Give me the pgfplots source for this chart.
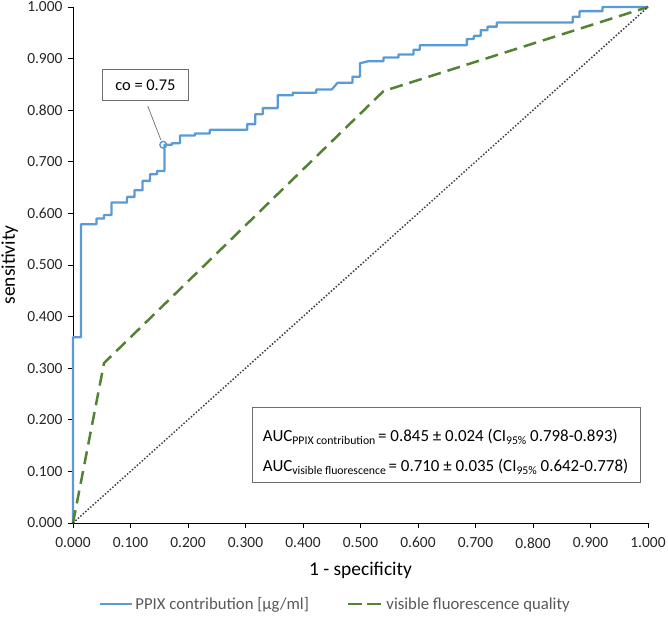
\documentclass[border=0pt]{standalone}
\usepackage{pgfplots}
\pgfplotsset{compat=1.18}
\usepackage{fontspec}
\setmainfont{Carlito}
\usetikzlibrary{calc}
\definecolor{rocblue}{RGB}{91,155,213}
\definecolor{rocgreen}{RGB}{84,130,53}
\definecolor{boxgray}{RGB}{110,110,110}
\definecolor{legtext}{RGB}{89,89,89}
\newcommand{\sub}[1]{\raisebox{-0.35ex}{\fontsize{11.8}{11.8}\selectfont #1}}
\begin{document}
\begin{tikzpicture}
\begin{axis}[
  scale only axis,
  width=575bp, height=516bp,
  xmin=0, xmax=1, ymin=0, ymax=1,
  axis lines=left,
  axis line style={-, black, line width=0.9bp},
  tick style={black, line width=0.9bp},
  tick align=outside,
  major tick length=5bp,
  xtick={0,0.1,...,1.0},
  ytick={0,0.1,...,1.0},
  /pgf/number format/assume math mode=true,
  ticklabel style={font=\fontsize{15.5}{16}\selectfont, text=black!85},
  xticklabel style={yshift=-6bp, /pgf/number format/.cd, fixed, fixed zerofill, precision=3},
  yticklabel style={xshift=-2bp, /pgf/number format/.cd, fixed, fixed zerofill, precision=3},
  xlabel={1 - specificity},
  ylabel={sensitivity},
  label style={font=\fontsize{19.5}{20}\selectfont},
  xlabel style={at={(axis description cs:0.5,-0.091)}, anchor=center},
  ylabel style={at={(axis description cs:-0.110,0.5)}, anchor=center},
  legend columns=2,
  legend style={at={(axis description cs:0.4565,-0.157)}, anchor=center, draw=none,
    font=\fontsize{16.8}{17}\selectfont, text=legtext,
    /tikz/every even column/.append style={column sep=36bp}},
  legend cell align=left,
  clip=false,
]
\addplot[rocblue, line width=2.3bp, line join=round,
  legend image code/.code={\draw[rocblue, line width=2.2bp] (0bp,0bp) -- (32bp,0bp);}] coordinates {
(0,0) (0,0.360) (0.014,0.360) (0.014,0.579) (0.041,0.579) (0.041,0.590)
(0.054,0.590) (0.054,0.597) (0.067,0.597) (0.067,0.621) (0.094,0.621)
(0.094,0.632) (0.107,0.632) (0.107,0.645) (0.121,0.645) (0.121,0.663)
(0.134,0.663) (0.134,0.676) (0.146,0.676) (0.146,0.682) (0.159,0.682)
(0.159,0.733) (0.172,0.733) (0.172,0.736) (0.186,0.736) (0.186,0.751)
(0.212,0.751) (0.212,0.755) (0.238,0.755) (0.238,0.762) (0.303,0.762)
(0.303,0.773) (0.317,0.773) (0.317,0.792) (0.330,0.792) (0.330,0.804)
(0.356,0.804) (0.356,0.829) (0.382,0.829) (0.382,0.834) (0.423,0.834)
(0.423,0.840) (0.450,0.840) (0.460,0.853) (0.486,0.853) (0.486,0.865)
(0.499,0.865) (0.499,0.891) (0.514,0.895) (0.540,0.895) (0.540,0.902)
(0.566,0.902) (0.566,0.908) (0.592,0.908) (0.592,0.917) (0.603,0.917)
(0.603,0.926) (0.685,0.926) (0.685,0.938) (0.697,0.938) (0.697,0.944)
(0.709,0.944) (0.709,0.955) (0.721,0.955) (0.721,0.962) (0.737,0.962)
(0.737,0.970) (0.869,0.970) (0.869,0.981) (0.881,0.981) (0.881,0.992)
(0.921,0.992) (0.921,1.000) (1,1)
};
\addlegendentry{PPIX contribution [µg/ml]}
\addplot[rocgreen, line width=2.5bp, dash pattern=on 13bp off 7bp,
  legend image code/.code={\draw[rocgreen, line width=2.5bp, dash pattern=on 14bp off 5bp] (0bp,0bp) -- (35bp,0bp);}] coordinates {
(0,0) (0.054,0.310) (0.540,0.837) (1,1)
};
\addlegendentry{visible fluorescence quality}
\addplot[black!75, line width=1.5bp, dash pattern=on 1.5bp off 1.8bp, forget plot] coordinates {(0,0) (1,1)};
\addplot[only marks, mark=o, mark size=3.4bp, rocblue, mark options={line width=1.4bp}, forget plot] coordinates {(0.157,0.733)};
\draw[boxgray, line width=0.7bp] (axis cs:0.130,0.808) -- (axis cs:0.153,0.742);
\node[draw=boxgray, line width=0.9bp, fill=white, minimum width=85bp, minimum height=31bp, inner sep=0pt,
  font=\fontsize{16.5}{17}\selectfont] at (axis cs:0.126,0.848) {co = 0.75};
\node[draw=boxgray, line width=0.9bp, fill=white, minimum width=388bp, minimum height=75bp, inner sep=0pt]
  at (axis cs:0.650,0.152) {};
\node[anchor=west, inner sep=0pt, font=\fontsize{17}{17}\selectfont] at (axis cs:0.330,0.1667)
  {AUC\sub{PPIX contribution}\,= 0.845 ± 0.024 (CI\sub{95\%} 0.798-0.893)};
\node[anchor=west, inner sep=0pt, font=\fontsize{17}{17}\selectfont] at (axis cs:0.330,0.1085)
  {AUC\sub{visible fluorescence}\,= 0.710 ± 0.035 (CI\sub{95\%} 0.642-0.778)};
\end{axis}
\pgfresetboundingbox
\path[use as bounding box] ($(current axis.south west)+(-73bp,-96bp)$) rectangle ($(current axis.north east)+(20bp,7bp)$);
\end{tikzpicture}
\end{document}
